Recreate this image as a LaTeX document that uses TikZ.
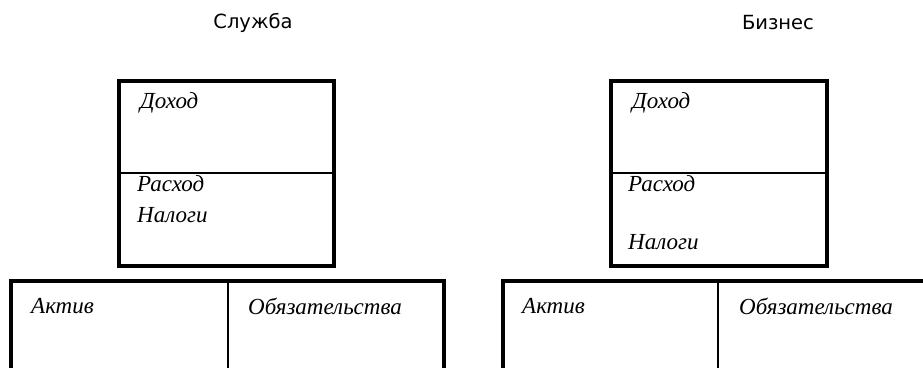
\documentclass[tikz,border=0pt]{standalone}
\usepackage{fontspec}
\setmainfont{Liberation Serif}
\newfontfamily\titlefont{DejaVu Sans}
\begin{document}
\begin{tikzpicture}[x=1pt,y=-1pt,
  frame/.style={line width=4.5pt, line join=miter},
  divider/.style={line width=2.2pt},
  ttl/.style={font=\titlefont\fontsize{19.5}{22}\selectfont, inner sep=0pt},
  lbl/.style={font=\itshape\fontsize{23}{25}\selectfont, anchor=west, inner sep=0pt}]
\useasboundingbox (0,0) rectangle (923,367);
\clip (0,0) rectangle (923,367);
\fill[white] (0,0) rectangle (923,367);
% titles
\node[ttl] (t1) at (253,23) {Служба};
\node[ttl] (t2) at (778,23) {Бизнес};
% left top box
\draw[frame] (119,81) rectangle (334,266);
\draw[divider] (119,173) -- (334,173);
% left bottom box
\draw[frame] (11,380) -- (11,281) -- (444,281) -- (444,380);
\draw[divider] (228,281) -- (228,380);
% right top box
\draw[frame] (611,81) rectangle (827,266);
\draw[divider] (611,173) -- (827,173);
% right bottom box
\draw[frame] (503,380) -- (503,281) -- (940,281);
\draw[divider] (718,281) -- (718,380);
% labels left
\node[lbl] (l1) at (140,103) {Доход};
\node[lbl] (l2) at (137,184) {Расход};
\node[lbl] (l3) at (137,215) {Налоги};
\node[lbl] (l4) at (31,306) {Актив};
\node[lbl] (l5) at (248,306) {Обязательства};
% labels right
\node[lbl] (r1) at (632,103) {Доход};
\node[lbl] (r2) at (628,184) {Расход};
\node[lbl] (r3) at (628,242) {Налоги};
\node[lbl] (r4) at (522,306) {Актив};
\node[lbl] (r5) at (739,306) {Обязательства};
\end{tikzpicture}
\end{document}
